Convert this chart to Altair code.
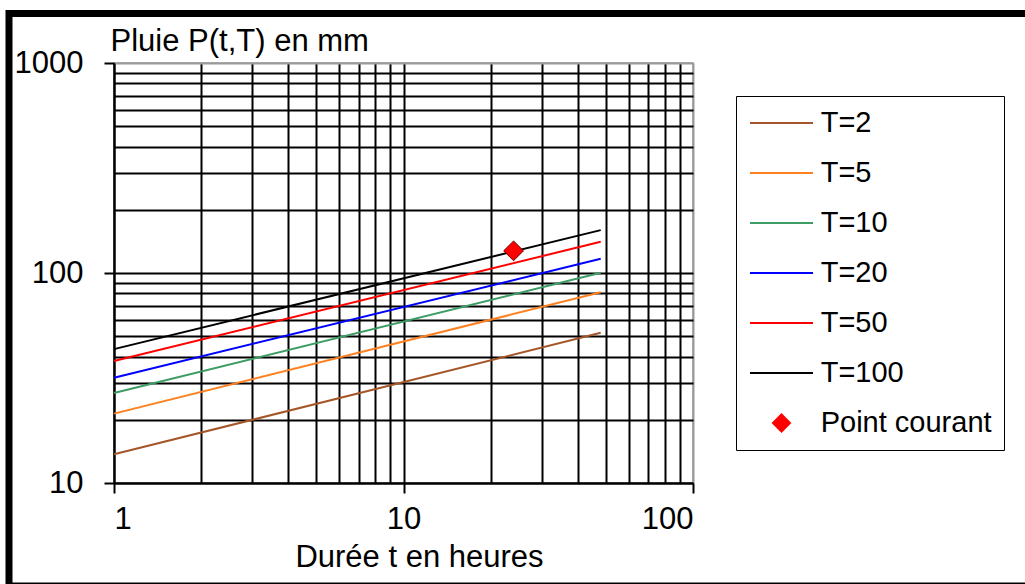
import altair as alt
import pandas as pd

# Durations (hours) at which each IDF curve is evaluated
durations = [1, 48]
series = ["T=2", "T=5", "T=10", "T=20", "T=50", "T=100"]
rain_at_1h = [13.7, 21.4, 26.8, 31.7, 38.1, 43.4]
rain_at_48h = [51.9, 81.0, 100.2, 116.8, 140.8, 160.0]
series_colors = ["#A5552A", "#FF8020", "#3C9C64", "#0000FF", "#FF0000", "#000000"]

point_label = "Point courant"
point_t = [24]
point_p = [127.5]
point_color = "#FF0000"

x_grid = [1, 2, 3, 4, 5, 6, 7, 8, 9, 10, 20, 30, 40, 50, 60, 70, 80, 90, 100]
y_grid = [10, 20, 30, 40, 50, 60, 70, 80, 90, 100, 200, 300, 400, 500, 600, 700, 800, 900, 1000]

FONT = "Liberation Sans"
FS = 31
LEGEND_FS = 29

rows = []
for name, p1, p48 in zip(series, rain_at_1h, rain_at_48h):
    for t, p in zip(durations, [p1, p48]):
        rows.append({"serie": name, "t": t, "p": p})
lines_df = pd.DataFrame(rows)
point_df = pd.DataFrame({"serie": [point_label] * len(point_t), "t": point_t, "p": point_p})

# legend / marker shapes: a thin bar for curves, a diamond for the point
LINE_SHAPE = "M-2.1,-0.07H2.1V0.07H-2.1Z"
DIAMOND = "M0,-0.66L0.66,0L0,0.66L-0.66,0Z"

domain = series + [point_label]
all_colors = series_colors + [point_color]

x_scale = alt.Scale(type="log", domain=[1, 100], nice=False)
y_scale = alt.Scale(type="log", domain=[10, 1000], nice=False)

x_major = "datum.value == 1 || datum.value == 10 || datum.value == 100"
y_major = "datum.value == 10 || datum.value == 100 || datum.value == 1000"

x_axis = alt.Axis(
    values=x_grid,
    grid=True,
    gridColor={"condition": {"test": "datum.value == 100", "value": "#9a9a9a"}, "value": "#000000"},
    gridWidth=2,
    tickOpacity={"condition": {"test": x_major, "value": 1}, "value": 0},
    tickSize=10,
    tickWidth=2,
    tickColor="#000000",
    domainColor="#000000",
    domainWidth=2,
    labelExpr=f"({x_major}) ? '' + datum.value : ''",
    labelOverlap=False,
    labelFont=FONT,
    labelFontSize=FS,
    labelColor="#000000",
    labelPadding=11,
    title="Durée t en heures",
    titleFont=FONT,
    titleFontSize=FS,
    titleFontWeight="normal",
    titleColor="#000000",
    titleAlign="center",
    titleBaseline="alphabetic",
    titleX=305,
    titleY=83,
)

y_axis = alt.Axis(
    values=y_grid,
    grid=True,
    gridColor={"condition": {"test": "datum.value == 1000", "value": "#9a9a9a"}, "value": "#000000"},
    gridWidth=2,
    tickOpacity={"condition": {"test": y_major, "value": 1}, "value": 0},
    tickSize=10,
    tickWidth=2,
    tickColor="#000000",
    domainColor="#000000",
    domainWidth=2,
    labelExpr=f"({y_major}) ? '' + datum.value : ''",
    labelOverlap=False,
    labelFont=FONT,
    labelFontSize=FS,
    labelColor="#000000",
    labelPadding=21,
    title="Pluie P(t,T) en mm",
    titleFont=FONT,
    titleFontSize=FS,
    titleFontWeight="normal",
    titleColor="#000000",
    titleAngle=0,
    titleAlign="left",
    titleBaseline="alphabetic",
    titleX=-4,
    titleY=-13,
)

legend = alt.Legend(
    title=None,
    orient="none",
    legendX=622,
    legendY=33,
    strokeColor="#000000",
    fillColor="#FFFFFF",
    padding=12,
    symbolSize=900,
    symbolOffset=18.5,
    symbolOpacity=1,
    symbolStrokeWidth=0,
    labelOffset=24.2,
    rowPadding=20,
    labelFont=FONT,
    labelFontSize=LEGEND_FS,
    labelColor="#000000",
    labelLimit=400,
)

curves = alt.Chart(lines_df).mark_line(strokeWidth=2).encode(
    x=alt.X("t:Q", scale=x_scale, axis=x_axis),
    y=alt.Y("p:Q", scale=y_scale, axis=y_axis),
    color=alt.Color("serie:N", scale=alt.Scale(domain=series, range=series_colors), legend=None),
)

point = alt.Chart(point_df).mark_point(filled=True, size=900, opacity=1).encode(
    x=alt.X("t:Q", scale=x_scale),
    y=alt.Y("p:Q", scale=y_scale),
    color=alt.Color("serie:N", scale=alt.Scale(domain=domain, range=all_colors), legend=legend),
    shape=alt.Shape(
        "serie:N",
        scale=alt.Scale(domain=domain, range=[LINE_SHAPE] * len(series) + [DIAMOND]),
        legend=legend,
    ),
)

point_outline = alt.Chart(point_df).mark_point(
    filled=False, shape=DIAMOND, size=900, opacity=1, stroke="#6a0000", strokeWidth=1
).encode(
    x=alt.X("t:Q", scale=x_scale),
    y=alt.Y("p:Q", scale=y_scale),
)

# thick outer frame around the whole figure
frame = alt.Chart(pd.DataFrame({"k": [0]})).mark_rect(
    fillOpacity=0, stroke="#000000", strokeWidth=7
).encode(
    x=alt.value(-105), x2=alt.value(916), y=alt.value(-49.5), y2=alt.value(523)
)

chart = alt.layer(curves, point, point_outline, frame).resolve_scale(
    color="independent", shape="independent"
).properties(
    width=579,
    height=420,
    autosize=alt.AutoSizeParams(type="none"),
    padding={"left": 114, "top": 63, "right": 332, "bottom": 101},
    background="#FFFFFF",
).configure_view(stroke="#9a9a9a", strokeWidth=1.5)

chart.save("out.html", embed_options={"renderer": "svg", "actions": False})
